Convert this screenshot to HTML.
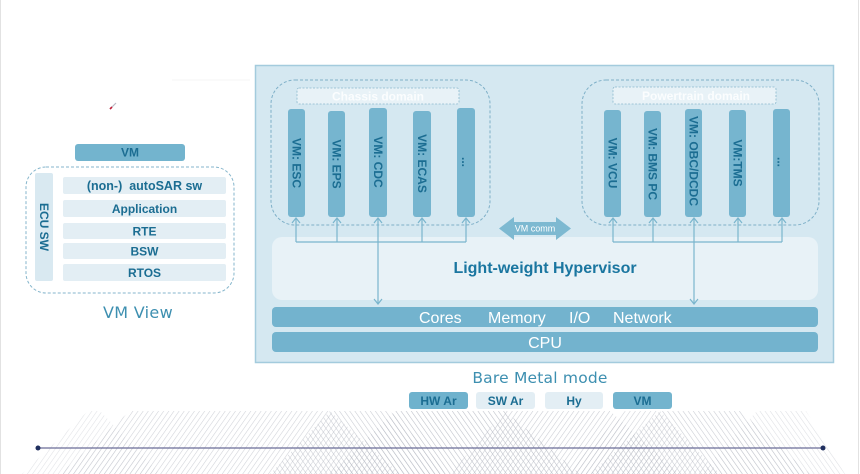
<!DOCTYPE html>
<html>
<head>
<meta charset="utf-8">
<style>
  html,body{margin:0;padding:0;background:#fff;}
  svg{display:block;}
  .b{font-family:"Liberation Sans",Arial,sans-serif;font-weight:bold;}
  .r{font-family:"Liberation Sans",Arial,sans-serif;}
  .h{font-family:"DejaVu Sans",sans-serif;font-weight:normal;}
</style>
</head>
<body>
<svg width="860" height="474" viewBox="0 0 860 474" xmlns="http://www.w3.org/2000/svg">
  <defs>
    <pattern id="hb" width="4.2" height="4.2" patternUnits="userSpaceOnUse" patternTransform="rotate(35)">
      <line x1="0" y1="0" x2="0" y2="4.2" stroke="#a9adb8" stroke-width="1.1"/>
    </pattern>
    <pattern id="hf" width="4.2" height="4.2" patternUnits="userSpaceOnUse" patternTransform="rotate(-35)">
      <line x1="0" y1="0" x2="0" y2="4.2" stroke="#a9adb8" stroke-width="1.1"/>
    </pattern>
  </defs>

  <rect x="0" y="0" width="860" height="474" fill="#ffffff"/>
  <line x1="0.5" y1="0" x2="0.5" y2="474" stroke="#e2e2e2"/>
  <line x1="858.5" y1="0" x2="858.5" y2="474" stroke="#e2e2e2"/>

  <!-- hatch background -->
  <g opacity="0.8">
    <polygon points="88,411 100,411 160,474 22,474" fill="url(#hb)" opacity="0.45"/>
    <polygon points="130,411 330,411 400,474 60,474" fill="url(#hb)" opacity="0.7"/>
    <polygon points="330,411 390,411 450,474 270,474" fill="url(#hf)" opacity="0.8"/>
    <polygon points="395,411 505,411 580,474 330,474" fill="url(#hf)"/>
    <polygon points="505,411 610,411 680,474 450,474" fill="url(#hb)" opacity="0.8"/>
    <polygon points="625,411 660,411 720,474 565,474" fill="url(#hb)" opacity="0.7"/>
    <polygon points="660,411 740,411 810,474 590,474" fill="url(#hf)" opacity="0.8"/>
    <polygon points="757,411 806,411 845,474 700,474" fill="url(#hf)" opacity="0.5"/>
  </g>
  <!-- baseline with dots -->
  <line x1="38" y1="448" x2="823" y2="448" stroke="#6a6c98" stroke-width="1.3"/>
  <circle cx="38" cy="448" r="2.5" fill="#1f2f5e"/>
  <circle cx="823" cy="448" r="2.5" fill="#1f2f5e"/>

  <!-- faint artifacts -->
  <line x1="172" y1="80" x2="250" y2="80" stroke="#f6f6f6"/>
  <line x1="110" y1="109" x2="116" y2="103" stroke="#b9b9c4" stroke-width="1.2"/>
  <line x1="110" y1="109" x2="112" y2="107" stroke="#c0203a" stroke-width="1.6"/>

  <!-- ===== Left VM view ===== -->
  <rect x="75" y="144" width="110" height="17" rx="3" fill="#73b4ce"/>
  <text x="130" y="156.5" class="b" font-size="12" fill="#1b6d92" text-anchor="middle">VM</text>

  <rect x="26" y="167" width="208" height="126" rx="20" fill="none" stroke="#86b6cc" stroke-width="1" stroke-dasharray="3,2"/>
  <rect x="35" y="173" width="18" height="108" rx="2" fill="#d9e9f1"/>
  <text transform="translate(44,227) rotate(90)" class="b" font-size="12" fill="#1b6d92" text-anchor="middle" dominant-baseline="central">ECU SW</text>

  <rect x="63" y="177" width="163" height="17" rx="2" fill="#e3eef4"/>
  <text x="144.5" y="190" class="b" font-size="12.5" fill="#1b6d92" text-anchor="middle">(non-)&#160; autoSAR sw</text>
  <rect x="63" y="200" width="163" height="17" rx="2" fill="#e3eef4"/>
  <text x="144.5" y="213" class="b" font-size="12" fill="#1b6d92" text-anchor="middle">Application</text>
  <rect x="63" y="223" width="163" height="16" rx="2" fill="#e3eef4"/>
  <text x="144.5" y="235.5" class="b" font-size="12" fill="#1b6d92" text-anchor="middle">RTE</text>
  <rect x="63" y="243" width="163" height="16" rx="2" fill="#e3eef4"/>
  <text x="144.5" y="255.5" class="b" font-size="12" fill="#1b6d92" text-anchor="middle">BSW</text>
  <rect x="63" y="264" width="163" height="17" rx="2" fill="#e3eef4"/>
  <text x="144.5" y="277" class="b" font-size="12" fill="#1b6d92" text-anchor="middle">RTOS</text>

  <text x="138" y="318" class="h" font-size="16" fill="#3d8fb0" text-anchor="middle" letter-spacing="0.3">VM View</text>

  <!-- ===== Main box ===== -->
  <rect x="255.5" y="65.5" width="578" height="297" fill="#d5e8f1" stroke="#a3cbdd" stroke-width="1.5"/>

  <!-- Chassis domain -->
  <rect x="271" y="80" width="219" height="145" rx="24" fill="none" stroke="#7fb0c8" stroke-width="1" stroke-dasharray="3,2"/>
  <rect x="297" y="88" width="162" height="16" rx="2" fill="#e8f2f7" stroke="#8ab8cd" stroke-width="0.8" stroke-dasharray="2,1.5"/>
  <text x="378" y="100.5" class="b" font-size="12" fill="#fbfdfe" text-anchor="middle">Chassis domain</text>

  <g fill="#76b5cf">
    <rect x="288" y="109" width="17" height="108" rx="3"/>
    <rect x="328" y="111" width="17" height="106" rx="3"/>
    <rect x="369" y="108" width="18" height="109" rx="3"/>
    <rect x="413" y="111" width="18" height="106" rx="3"/>
    <rect x="457" y="108" width="18" height="109" rx="3"/>
  </g>
  <g class="b" font-size="12" fill="#1b6d92" text-anchor="middle" dominant-baseline="central">
    <text transform="translate(296.5,163) rotate(90)">VM: ESC</text>
    <text transform="translate(336.5,164) rotate(90)">VM: EPS</text>
    <text transform="translate(378,162) rotate(90)">VM: CDC</text>
    <text transform="translate(422,163.5) rotate(90)">VM: ECAS</text>
    <text transform="translate(466,162) rotate(90)">...</text>
  </g>

  <!-- Powertrain domain -->
  <rect x="582" y="80" width="237" height="145" rx="24" fill="none" stroke="#7fb0c8" stroke-width="1" stroke-dasharray="3,2"/>
  <rect x="613" y="87" width="163" height="17" rx="2" fill="#e8f2f7" stroke="#8ab8cd" stroke-width="0.8" stroke-dasharray="2,1.5"/>
  <text x="696" y="100" class="b" font-size="12" fill="#fbfdfe" text-anchor="middle">Powertrain domain</text>

  <g fill="#76b5cf">
    <rect x="604" y="110" width="17" height="107" rx="3"/>
    <rect x="644" y="111" width="17" height="106" rx="3"/>
    <rect x="685" y="109" width="17" height="108" rx="3"/>
    <rect x="729" y="110" width="17" height="107" rx="3"/>
    <rect x="773" y="109" width="17" height="108" rx="3"/>
  </g>
  <g class="b" font-size="12" fill="#1b6d92" text-anchor="middle" dominant-baseline="central">
    <text transform="translate(612.5,163) rotate(90)">VM: VCU</text>
    <text transform="translate(652.5,164) rotate(90)">VM: BMS PC</text>
    <text transform="translate(693.5,161) rotate(90)">VM: OBC/DCDC</text>
    <text transform="translate(737.5,163) rotate(90)">VM:TMS</text>
    <text transform="translate(781.5,162) rotate(90)">...</text>
  </g>

  <!-- Hypervisor -->
  <rect x="272" y="237" width="546" height="63" rx="10" fill="#e8f2f7"/>
  <text x="545" y="273" class="b" font-size="16" fill="#1a76a0" text-anchor="middle">Light-weight Hypervisor</text>

  <!-- connectors -->
  <g stroke="#7ab5cd" stroke-width="1.2" fill="none">
    <line x1="296" y1="242" x2="466" y2="242"/>
    <line x1="296" y1="218" x2="296" y2="242"/>
    <line x1="337" y1="218" x2="337" y2="242"/>
    <line x1="422" y1="218" x2="422" y2="242"/>
    <line x1="466" y1="218" x2="466" y2="242"/>
    <line x1="378" y1="218" x2="378" y2="304"/>
    <polyline points="292,223 296,218 300,223"/>
    <polyline points="333,223 337,218 341,223"/>
    <polyline points="374,223 378,218 382,223"/>
    <polyline points="418,223 422,218 426,223"/>
    <polyline points="462,223 466,218 470,223"/>
    <polyline points="374,299 378,304 382,299"/>

    <line x1="613" y1="242" x2="782" y2="242"/>
    <line x1="613" y1="218" x2="613" y2="242"/>
    <line x1="653" y1="218" x2="653" y2="242"/>
    <line x1="738" y1="218" x2="738" y2="242"/>
    <line x1="782" y1="218" x2="782" y2="242"/>
    <line x1="694" y1="218" x2="694" y2="304"/>
    <polyline points="609,223 613,218 617,223"/>
    <polyline points="649,223 653,218 657,223"/>
    <polyline points="690,223 694,218 698,223"/>
    <polyline points="734,223 738,218 742,223"/>
    <polyline points="778,223 782,218 786,223"/>
    <polyline points="690,299 694,304 698,299"/>
  </g>

  <!-- VM comm double arrow -->
  <polygon points="499,228.5 514,217 514,222 556,222 556,217 571,228.5 556,240 556,235 514,235 514,240" fill="#7db9d1"/>
  <text x="535" y="231.5" class="r" font-size="9" fill="#ffffff" text-anchor="middle">VM comm</text>

  <!-- Cores / CPU -->
  <rect x="272" y="307" width="546" height="20" rx="4" fill="#73b3ce"/>
  <g class="r" font-size="16" fill="#ffffff">
    <text x="419" y="323">Cores</text>
    <text x="488" y="323">Memory</text>
    <text x="569" y="323">I/O</text>
    <text x="613" y="323">Network</text>
  </g>
  <rect x="272" y="332" width="546" height="20" rx="4" fill="#73b3ce"/>
  <text x="545" y="348" class="r" font-size="16" fill="#ffffff" text-anchor="middle">CPU</text>

  <!-- Bare metal -->
  <text x="540" y="383" class="h" font-size="15.5" fill="#3d8fb0" text-anchor="middle" letter-spacing="0.2">Bare Metal mode</text>

  <rect x="409" y="392" width="59" height="17" rx="3" fill="#6fb2cd"/>
  <text x="438.5" y="405" class="b" font-size="12" fill="#1b6d92" text-anchor="middle">HW Ar</text>
  <rect x="476" y="392" width="59" height="17" rx="3" fill="#e3eef4"/>
  <text x="505.5" y="405" class="b" font-size="12" fill="#1b6d92" text-anchor="middle">SW Ar</text>
  <rect x="545" y="392" width="58" height="17" rx="3" fill="#e3eef4"/>
  <text x="574" y="405" class="b" font-size="12" fill="#1b6d92" text-anchor="middle">Hy</text>
  <rect x="613" y="392" width="59" height="17" rx="3" fill="#73b4ce"/>
  <text x="642.5" y="405" class="b" font-size="12" fill="#1b6d92" text-anchor="middle">VM</text>
</svg>
</body>
</html>
